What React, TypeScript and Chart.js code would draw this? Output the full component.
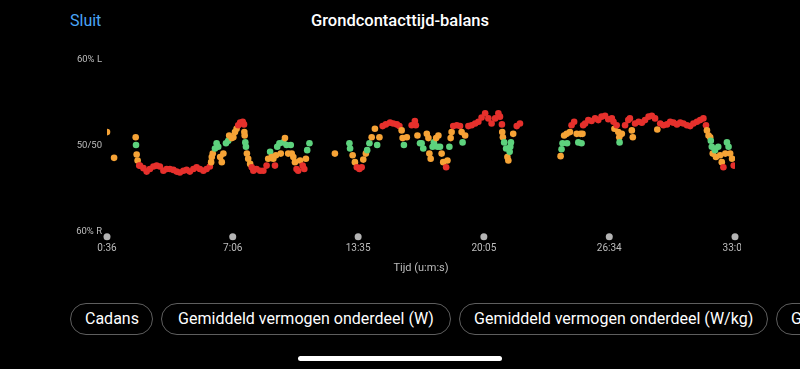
import React, { useEffect, useRef } from "react";
import { Chart, registerables } from "chart.js";

Chart.register(...registerables);

// Time (seconds) of each sample
const timeSec = [
  36, 58, 125, 126, 128, 131, 136, 138, 149, 159, 169, 180, 190, 200, 211, 221, 231, 242, 252, 262, 273, 283, 293, 304, 314, 324, 335, 345, 355,
  359, 361, 364, 371, 376, 381, 387, 392, 397, 405, 412, 415, 423, 428, 433, 438, 443, 449, 457, 461, 462, 463, 465, 467, 470, 474, 480,
  485, 490, 500, 511, 521, 531, 536, 542, 547, 552, 557, 560, 564, 571, 575, 583, 588, 593, 598, 606, 609, 614, 619, 624, 629, 635, 643, 648, 653, 657, 664,
  743, 788, 790, 798, 805, 811, 819, 826, 831, 839, 843, 850, 857, 867, 874, 881, 891, 901, 914, 924, 935, 943, 950, 953, 957, 966, 981, 991, 994, 999, 1007, 1012, 1017,
  1028, 1033, 1036, 1040, 1046, 1050, 1057, 1061, 1064, 1069, 1074, 1079, 1088, 1092, 1098, 1102, 1105, 1110, 1121, 1131, 1136, 1139, 1147, 1157, 1167, 1178, 1188, 1198, 1209, 1219,
  1229, 1240, 1250, 1255, 1261, 1262, 1264, 1268, 1274, 1278, 1281, 1285, 1287, 1289, 1296, 1307, 1317,
  1443, 1446, 1449, 1454, 1462, 1463, 1472, 1477, 1485, 1493, 1498, 1505, 1508, 1511, 1513, 1519, 1529, 1539, 1550, 1560,
  1570, 1581, 1591, 1602, 1607, 1610, 1617, 1622, 1625, 1626, 1633, 1643, 1653, 1658, 1664, 1667, 1674, 1685, 1695, 1705,
  1716, 1726, 1736, 1743, 1752, 1762, 1773, 1783, 1793, 1804, 1814, 1824, 1835, 1845, 1855, 1866, 1876, 1886, 1894, 1897,
  1902, 1907, 1909, 1912, 1915, 1922, 1925, 1932, 1938, 1943, 1948, 1954, 1959, 1964, 1969, 1975, 1980,
];

// Ground contact time balance, % left
const balanceL = [
  51.6, 48.6, 51.0, 50.1, 49.0, 48.3, 47.7, 47.7, 47.4, 47.0, 47.3, 47.6, 47.7, 47.6, 47.1, 47.3, 47.3, 47.2, 47.0, 46.9, 47.1, 47.2, 47.0, 47.3, 47.5, 47.3, 47.1, 47.3, 47.6,
  48.1, 48.7, 49.1, 49.7, 50.3, 49.9, 48.7, 48.1, 49.1, 50.3, 50.6, 51.2, 50.9, 51.0, 51.6, 52.0, 52.4, 52.7, 52.8, 52.5, 51.6, 51.2, 50.4, 49.9, 49.1, 48.5, 47.9,
  47.5, 47.1, 47.3, 47.1, 47.1, 47.7, 48.5, 49.3, 48.7, 48.5, 47.7, 48.9, 49.9, 50.3, 49.1, 50.4, 50.9, 50.1, 49.1, 50.1, 49.1, 48.7, 48.1, 47.3, 47.1, 48.3, 47.7, 47.3, 48.5, 49.5, 50.3,
  49.1, 50.3, 49.7, 48.9, 48.1, 47.5, 47.3, 47.5, 48.4, 49.1, 49.5, 50.3, 51.0, 52.0, 50.1, 51.0, 52.3, 52.5, 52.7, 52.6, 52.5, 52.3, 51.8, 50.9, 50.1, 51.0, 52.4, 52.9, 52.4, 51.2, 50.3, 50.3, 49.7,
  51.4, 50.9, 49.1, 48.5, 49.9, 50.4, 50.9, 49.9, 51.2, 49.9, 49.1, 48.1, 47.5, 48.3, 49.9, 50.9, 51.6, 52.3, 52.4, 52.3, 51.6, 50.4, 51.2, 52.3, 52.4, 52.6, 52.8, 53.3, 53.8, 53.2,
  52.6, 53.2, 53.8, 53.4, 52.5, 51.6, 51.0, 50.4, 49.7, 48.7, 48.3, 49.3, 49.9, 50.4, 51.4, 52.3, 52.6,
  48.8, 49.6, 50.3, 51.2, 51.4, 50.3, 51.6, 52.4, 52.8, 51.4, 50.4, 51.4, 50.3, 51.4, 52.4, 52.6, 53.0, 52.9, 53.2, 53.0,
  53.4, 53.5, 53.1, 53.2, 52.8, 52.0, 52.4, 51.6, 51.0, 50.4, 51.4, 52.4, 53.0, 53.2, 51.8, 51.0, 52.6, 52.8, 52.7, 53.0,
  53.4, 53.5, 53.2, 51.9, 52.6, 52.4, 52.5, 52.8, 52.7, 52.5, 52.7, 52.6, 52.4, 52.3, 52.6, 52.8, 53.0, 53.2, 52.4, 51.8,
  51.2, 51.0, 50.6, 49.9, 49.1, 49.5, 48.7, 49.9, 48.9, 48.1, 47.5, 49.1, 50.4, 49.9, 49.1, 48.5, 47.7,
];

const xTickSec = [36, 426, 815, 1205, 1594, 1984];
const yTickValues = [40, 50, 60];
const yTickLabels = ["60% R", "50/50", "60% L"];
const buttonLabels = [
  "Cadans",
  "Gemiddeld vermogen onderdeel (W)",
  "Gemiddeld vermogen onderdeel (W/kg)",
  "Gemiddelde",
];
const buttonWidths = [83, 290, 309, 200];

const RED = "#e6302c";
const ORANGE = "#f6a336";
const GREEN = "#5dd27d";
const LABEL = "#bdbdbd";
const FONT = "Roboto, 'Noto Sans', sans-serif";

function colorFor(v: number): string {
  const d = Math.abs(v - 50);
  if (d > 2.2) return RED;
  if (d > 0.8) return ORANGE;
  return GREEN;
}

function fmtTime(s: number): string {
  const m = Math.floor(s / 60);
  const sec = Math.round(s - m * 60);
  return `${m}:${sec.toString().padStart(2, "0")}`;
}

const tickDots = {
  id: "tickDots",
  afterDraw(chart: any) {
    const { ctx, chartArea, scales } = chart;
    ctx.save();
    ctx.fillStyle = "#b4b4b4";
    xTickSec.forEach((v) => {
      const px = scales.x.getPixelForValue(v);
      ctx.beginPath();
      ctx.arc(px, chartArea.bottom + 5, 3.5, 0, Math.PI * 2);
      ctx.fill();
    });
    ctx.restore();
  },
};

export default function App() {
  const ref = useRef<HTMLCanvasElement | null>(null);

  useEffect(() => {
    if (!ref.current) return;
    const chart = new Chart(ref.current, {
      type: "scatter",
      data: {
        datasets: [
          {
            data: timeSec.map((t, i) => ({ x: t, y: balanceL[i] })),
            pointRadius: 3.3,
            pointHoverRadius: 3.3,
            borderWidth: 0,
            clip: 0,
            backgroundColor: (ctx: any) =>
              ctx.raw && typeof ctx.raw.y === "number" ? colorFor(ctx.raw.y) : GREEN,
          } as any,
        ],
      },
      options: {
        responsive: false,
        animation: false,
        events: [],
        layout: { padding: { left: 0, right: 6, top: 60, bottom: 15.3 } },
        plugins: {
          legend: { display: false },
          tooltip: { enabled: false },
        },
        scales: {
          x: {
            type: "linear",
            min: 36,
            max: 1984,
            afterBuildTicks: (s: any) => {
              s.ticks = xTickSec.map((v) => ({ value: v }));
            },
            afterFit: (s: any) => {
              s.height = 43;
              s.paddingLeft = 0;
              s.paddingRight = 0;
            },
            ticks: {
              color: LABEL,
              font: { family: FONT, size: 10 },
              padding: 11,
              maxRotation: 0,
              autoSkip: false,
              callback: (v: any) => fmtTime(Number(v)),
            },
            grid: { display: false, drawTicks: false },
            border: { display: false },
            title: {
              display: true,
              text: "Tijd (u:m:s)",
              color: LABEL,
              font: { family: FONT, size: 11 },
              padding: 0,
            },
          },
          y: {
            type: "linear",
            min: 40,
            max: 60,
            afterBuildTicks: (s: any) => {
              s.ticks = yTickValues.map((v) => ({ value: v }));
            },
            afterFit: (s: any) => {
              s.width = 107;
              s.paddingTop = 0;
              s.paddingBottom = 0;
            },
            ticks: {
              color: LABEL,
              font: { family: FONT, size: 9.5 },
              padding: 5,
              callback: (v: any) => {
                const i = yTickValues.indexOf(Number(v));
                return i >= 0 ? yTickLabels[i] : "";
              },
            },
            grid: { display: false, drawTicks: false },
            border: { display: false },
          },
        },
      } as any,
      plugins: [tickDots],
    });
    return () => chart.destroy();
  }, []);

  return (
    <div
      style={{
        position: "fixed",
        inset: 0,
        width: 800,
        height: 369,
        background: "#000",
        overflow: "hidden",
        fontFamily: FONT,
      }}
    >
      <div
        style={{
          position: "absolute",
          left: 70,
          top: 11,
          lineHeight: "20px",
          fontSize: 16,
          color: "#4aa6f8",
        }}
      >
        Sluit
      </div>
      <div
        style={{
          position: "absolute",
          left: 0,
          width: 800,
          top: 11,
          lineHeight: "20px",
          fontSize: 16.5,
          fontWeight: 500,
          color: "#fff",
          textAlign: "center",
        }}
      >
        Grondcontacttijd-balans
      </div>
      <canvas
        ref={ref}
        width={741}
        height={290}
        style={{ position: "absolute", left: 0, top: 0, width: 741, height: 290 }}
      />
      <div
        style={{
          position: "absolute",
          left: 70,
          top: 303,
          display: "flex",
          gap: 8,
          whiteSpace: "nowrap",
        }}
      >
        {buttonLabels.map((b, i) => (
          <div
            key={b}
            style={{
              boxSizing: "border-box",
              width: buttonWidths[i],
              height: 32,
              lineHeight: "30px",
              padding: "0 14px",
              border: "1px solid #5e5e5e",
              borderRadius: 16,
              color: "#fff",
              fontSize: 16,
              flex: "none",
              textAlign: i === buttonLabels.length - 1 ? "left" : "center",
              overflow: "hidden",
            }}
          >
            {b}
          </div>
        ))}
      </div>
      <div
        style={{
          position: "absolute",
          left: 298,
          top: 356,
          width: 204,
          height: 5,
          borderRadius: 3,
          background: "#fff",
        }}
      />
    </div>
  );
}
